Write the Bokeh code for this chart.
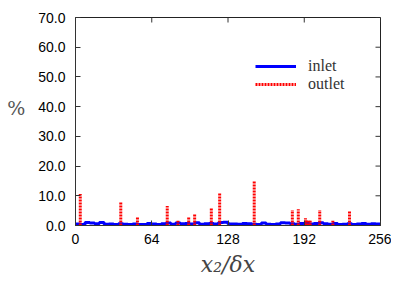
from bokeh.plotting import figure
from bokeh.models import (FixedTicker, PrintfTickFormatter, Range1d,
                          Legend, LegendItem, ColumnDataSource)
from bokeh.embed import file_html
from bokeh.resources import INLINE
import numpy as np

# ---- data ----
inlet_bin_width = 4
inlet_vals = [0.5, 0.3, 1.0, 0.8, 0.6, 1.0, 0.4, 0.5,
              0.3, 0.6, 0.4, 0.3, 0.5, 0.3, 0.3, 0.7,
              0.5, 0.3, 0.6, 0.8, 0.4, 0.8, 0.6, 0.7,
              0.5, 0.9, 0.4, 0.6, 0.7, 0.5, 1.0, 1.1,
              0.5, 0.5, 0.4, 0.7, 0.6, 0.4, 0.3, 0.8,
              0.4, 0.3, 0.5, 0.9, 0.8, 0.6, 0.4, 0.7,
              0.8, 0.5, 0.7, 0.9, 0.6, 0.4, 0.7, 0.3,
              0.4, 0.6, 0.3, 0.5, 0.7, 0.4, 0.6, 0.5]
outlet_pos = [4, 38, 52, 77, 86, 95, 100, 114, 121, 150, 182, 187,
              193, 194, 196, 197, 205, 216, 230]
outlet_vals = [10.6, 8.0, 3.0, 6.6, 1.6, 3.0, 4.0, 6.0, 10.8, 15.0, 5.2, 5.5,
               2.4, 2.0, 1.6, 1.6, 5.2, 1.6, 4.8]
x_ticks = [0, 64, 128, 192, 256]
y_ticks = [0, 10, 20, 30, 40, 50, 60, 70]
x_max, y_max = 256, 70

# ---- figure ----
FW, FH = 305, 208
p = figure(output_backend="svg", toolbar_location=None,
           frame_width=FW, frame_height=FH,
           x_range=Range1d(0, x_max), y_range=Range1d(0, y_max),
           min_border_left=75, min_border_right=11,
           min_border_top=17, min_border_bottom=53)
p.grid.visible = False
p.outline_line_color = "#222222"
p.outline_line_width = 1
p.background_fill_color = "white"
p.border_fill_color = "white"

tick_font = "Liberation Sans"
for ax in [p.xaxis[0], p.yaxis[0]]:
    ax.major_tick_in = 5
    ax.major_tick_out = 0
    ax.minor_tick_line_color = None
    ax.axis_line_color = "#333333"
    ax.major_tick_line_color = "#333333"
    ax.major_label_text_font = tick_font
    ax.major_label_text_font_size = "14px"
    ax.major_label_text_color = "black"

p.xaxis.ticker = FixedTicker(ticks=x_ticks)
p.yaxis.ticker = FixedTicker(ticks=y_ticks)
p.yaxis.formatter = PrintfTickFormatter(format="%.1f")
p.xaxis.major_label_standoff = 8
p.yaxis.major_label_standoff = 10

p.xaxis.axis_label = "x₂/δx"
p.xaxis.axis_label_text_font = "DejaVu Serif"
p.xaxis.axis_label_text_font_style = "italic"
p.xaxis.axis_label_text_font_size = "22px"
p.xaxis.axis_label_text_color = "#444444"
p.xaxis.axis_label_standoff = 5

p.yaxis.axis_label = "%\n"
p.yaxis.axis_label_text_font = "DejaVu Serif"
p.yaxis.axis_label_text_font_style = "normal"
p.yaxis.axis_label_text_font_size = "19px"
p.yaxis.axis_label_text_color = "#555555"
p.yaxis.axis_label_standoff = 10
if "axis_label_orientation" in p.yaxis[0].properties():
    p.yaxis.axis_label_orientation = "horizontal"

# mirrored inward ticks on top and right (from the tick arrays)
tick_len_x = 5 * y_max / FH
tick_len_y = 5 * x_max / FW
top_src = ColumnDataSource(dict(x=x_ticks, y0=[y_max] * len(x_ticks),
                                y1=[y_max - tick_len_x] * len(x_ticks)))
p.segment(x0="x", y0="y0", x1="x", y1="y1", source=top_src,
          line_color="#333333", line_width=1)
right_src = ColumnDataSource(dict(y=y_ticks, x0=[x_max] * len(y_ticks),
                                  x1=[x_max - tick_len_y] * len(y_ticks)))
p.segment(x0="x0", y0="y", x1="x1", y1="y", source=right_src,
          line_color="#333333", line_width=1)

# ---- data glyphs ----
edges = np.arange(0, x_max + inlet_bin_width, inlet_bin_width)
ys = list(inlet_vals) + [inlet_vals[-1]]
r_in = p.step(x=edges, y=ys, mode="after", line_color="#0000ff", line_width=3)

src = ColumnDataSource(dict(x=outlet_pos, y0=[0] * len(outlet_pos), y1=outlet_vals))
r_out = p.segment(x0="x", y0="y0", x1="x", y1="y1", source=src,
                  line_color="#ff0000", line_width=3, line_dash="2 1")

legend = Legend(items=[LegendItem(label="inlet", renderers=[r_in]),
                       LegendItem(label="outlet", renderers=[r_out])],
                location=(180, 132), orientation="vertical",
                glyph_width=41, glyph_height=14, label_height=14,
                spacing=-4, padding=0, margin=0, label_standoff=12,
                label_text_font="Liberation Serif", label_text_font_size="16px",
                label_text_color="#333333",
                border_line_color=None, background_fill_alpha=0)
p.add_layout(legend, "center")

open("out.html", "w").write(file_html(p, INLINE))
